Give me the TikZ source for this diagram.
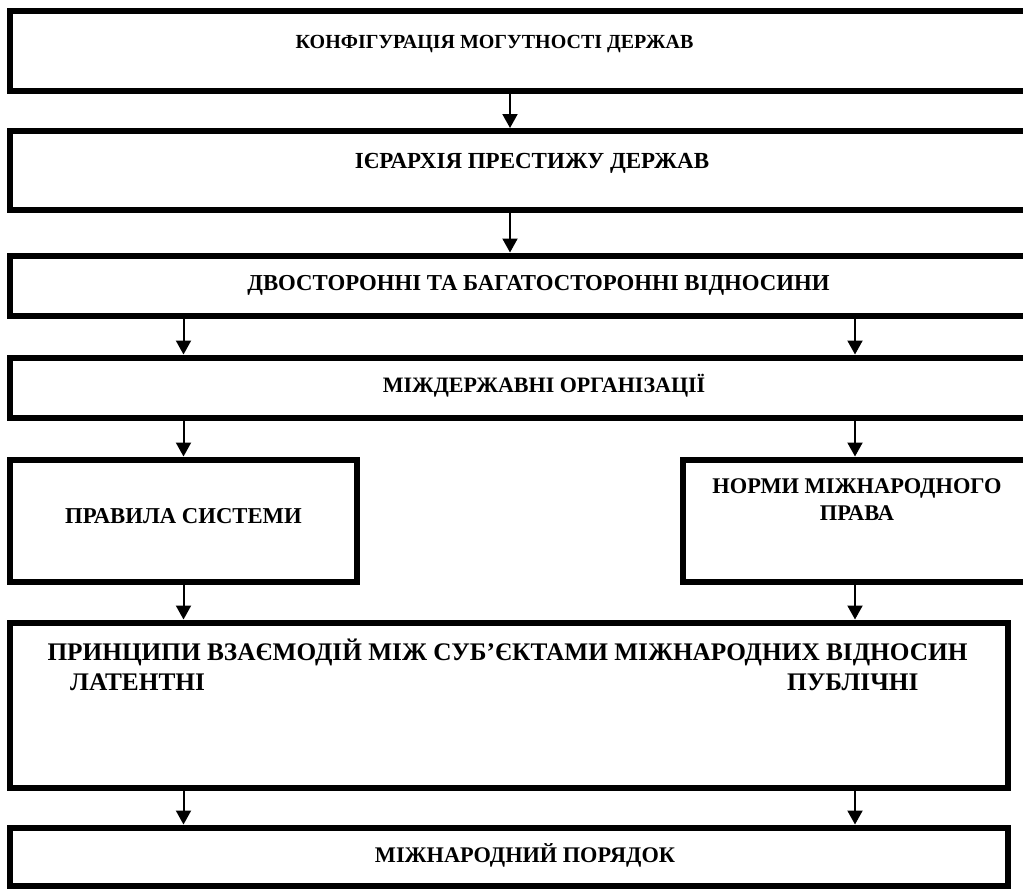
\documentclass[tikz,border=0pt]{standalone}
\usepackage{fontspec}
\setmainfont{Liberation Serif}
\usetikzlibrary{arrows.meta, positioning}

\begin{document}
\begin{tikzpicture} [x=1pt, y=-1pt,
    box/.style={draw, rectangle, line width=6pt, inner sep=0pt},
    lbl/.style={font=\bfseries\fontsize{#1pt}{27pt}\selectfont, anchor=base, inner sep=0pt},
    lbl/.default=22.5,
    arrow/.style={-{Triangle[width=15pt,length=14pt]}, line width=2pt}]

    \useasboundingbox (0,0) rectangle (1023,889);

    \node (b1) [box, minimum width=1020pt, minimum height=80pt] at (520,50.5) {};
    \node (b2) [box, minimum width=1020pt, minimum height=79pt] at (520,170.5) {};
    \node (b3) [box, minimum width=1020pt, minimum height=60pt] at (520,285.5) {};
    \node (b4) [box, minimum width=1020pt, minimum height=60pt] at (520,387.5) {};
    \node (b5l) [box, minimum width=347pt, minimum height=122pt] at (183.5,520.5) {};
    \node (b5r) [box, minimum width=345pt, minimum height=122pt] at (855,520.5) {};
    \node (b6) [box, minimum width=997.5pt, minimum height=165pt] at (508.75,705) {};
    \node (b7) [box, minimum width=997.5pt, minimum height=58.5pt] at (508.75,856.75) {};

    \node (t1) [lbl=20] at (494.5,48) {КОНФІГУРАЦІЯ МОГУТНОСТІ ДЕРЖАВ};
    \node (t2) [lbl=23] at (532,168) {ІЄРАРХІЯ ПРЕСТИЖУ ДЕРЖАВ};
    \node (t3) [lbl=22.8] at (538.5,290) {ДВОСТОРОННІ ТА БАГАТОСТОРОННІ ВІДНОСИНИ};
    \node (t4) [lbl=22] at (544,392) {МІЖДЕРЖАВНІ ОРГАНІЗАЦІЇ};
    \node (t5l) [lbl=22.7] at (183.5,523) {ПРАВИЛА СИСТЕМИ};
    \node (t5r) [lbl=22.4, align=center] at (857,520) {НОРМИ МІЖНАРОДНОГО\\ПРАВА};
    \node (t6) [lbl=25.3] at (507.5,660) {ПРИНЦИПИ ВЗАЄМОДІЙ МІЖ СУБ’ЄКТАМИ МІЖНАРОДНИХ ВІДНОСИН};
    \node (t6l) [lbl=25.3, anchor=base west] at (70,690) {ЛАТЕНТНІ};
    \node (t6r) [lbl=25.3, anchor=base west] at (787,690) {ПУБЛІЧНІ};
    \node (t7) [lbl=22.3] at (525,862) {МІЖНАРОДНИЙ ПОРЯДОК};

    \draw [arrow] ([xshift=-10pt]b1.south) -- ([xshift=-10pt]b2.north);
    \draw [arrow] ([xshift=-10pt]b2.south) -- ([xshift=-10pt]b3.north);
    \draw [arrow] (b3.south -| b5l.north) -- (b4.north -| b5l.north);
    \draw [arrow] (b3.south -| b5r.north) -- (b4.north -| b5r.north);
    \draw [arrow] (b4.south -| b5l.north) -- (b5l.north);
    \draw [arrow] (b4.south -| b5r.north) -- (b5r.north);
    \draw [arrow] (b5l.south) -- (b6.north -| b5l.south);
    \draw [arrow] (b5r.south) -- (b6.north -| b5r.south);
    \draw [arrow] (b6.south -| b5l.south) -- (b7.north -| b5l.south);
    \draw [arrow] (b6.south -| b5r.south) -- (b7.north -| b5r.south);

\end{tikzpicture}
\end{document}
